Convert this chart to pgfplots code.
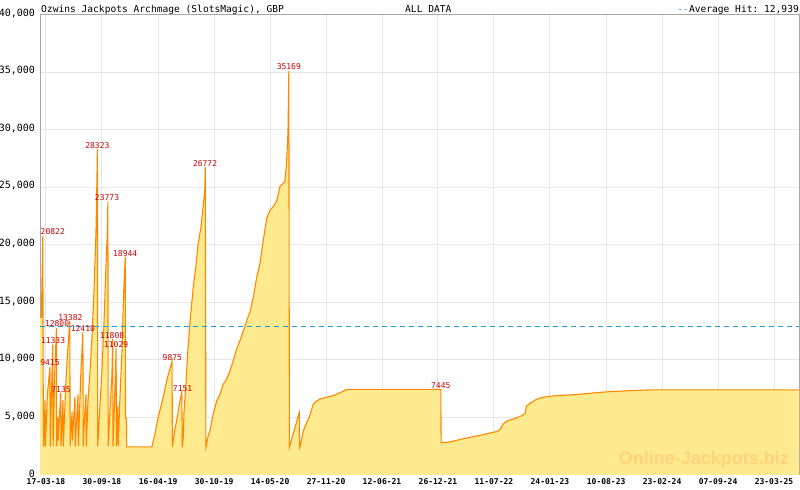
\documentclass[border=0pt]{standalone}
\usepackage{pgfplots}
\pgfplotsset{compat=1.18}
\usepackage{pgfplotstable}
\usepackage{fontspec}
\setmainfont{DejaVu Sans}
\setmonofont{DejaVu Sans Mono}
\newfontfamily\wmfont{Liberation Sans}
\definecolor{fillY}{HTML}{FFEA8F}
\definecolor{lineO}{HTML}{FF8800}
\definecolor{avgB}{HTML}{1E9CD8}
\definecolor{lblR}{HTML}{CC0000}
\definecolor{gridG}{HTML}{E6E6E6}
\definecolor{axG}{HTML}{A8A8A8}
\definecolor{wmC}{HTML}{FFD27C}

\pgfplotstableread{
x y
-21 13700
-16 13700
-14 16900
-11 20822
-10 8700
-8 2500
-3 6500
-2 2500
5 7000
14 9415
15 2500
21 8500
24 11333
25 2500
31 9000
37 12800
38 2500
42 5000
43 3000
52 7135
53 2500
60 6500
61 2500
70 8000
77 11000
84 13382
85 2500
92 5500
93 3000
102 6800
103 2500
113 7000
114 2500
123 9000
130 12410
131 2500
137 5500
141 7000
142 2500
148 6500
155 9000
162 12000
169 16000
176 21000
179 25000
181 28323
182 2500
190 6000
197 9000
204 13000
211 18000
216 21000
218 23773
219 2500
225 5500
232 8500
235 11808
236 2500
241 6000
247 11029
248 2500
253 6000
254 2500
261 7000
268 11000
273 15500
279 18944
280 4950
283 4950
284 2450
373 2450
384 3600
394 4900
405 6000
415 7000
426 8300
437 9300
444 9875
445 2450
448 3000
454 3990
460 4720
466 5600
472 6470
478 7151
480 2400
483 3200
486 5500
493 8000
500 11000
507 13300
518 16200
528 18200
535 20000
546 21600
553 23300
559 24700
561 26772
563 2400
565 2600
570 3300
577 3850
589 5300
601 6450
613 7030
624 7890
636 8330
648 9060
659 9930
671 10950
683 11680
695 12550
707 13420
718 14150
730 15460
742 17200
753 18370
765 20410
777 22310
789 23040
800 23330
812 23800
824 25100
841 25500
847 27150
852 29800
855 35169
857 2400
865 3120
877 4140
888 5140
892 5450
893 2400
897 2680
906 3840
918 4570
929 5150
941 6170
947 6310
965 6610
988 6760
1011 6900
1035 7150
1059 7445
1390 7445
1391 2800
1422 2880
1469 3150
1528 3450
1587 3780
1598 3950
1610 4450
1627 4750
1645 4850
1669 5100
1686 5300
1692 6000
1701 6180
1721 6500
1739 6700
1774 6850
1868 7000
1933 7150
1986 7250
2056 7330
2126 7400
2651 7400
}\jp

\pgfplotstableread{
x y label
24 20822 20822
14 9415 9415
25 11333 11333
39 12800 12800
53 7135 7135
86 13382 13382
130 12410 12410
181 28323 28323
215 23773 23773
233 11808 11808
247 11029 11029
279 18944 18944
445 9875 9875
481 7151 7151
560 26772 26772
855 35169 35169
1390 7445 7445
}\peaks

\begin{document}
\begin{tikzpicture}[x=1bp,y=1bp]
\useasboundingbox (0,0) rectangle (800,490);
\begin{axis}[name=ax, at={(40bp,15bp)}, anchor=south west, scale only axis,
  width=759bp, height=460bp,
  xmin=-21, xmax=2651, ymin=0, ymax=40000,
  axis line style={axG, line width=1bp},
  xtick={0,197,395,592,789,986,1183,1380,1577,1774,1972,2169,2366,2563},
  xticklabels={17-03-18,30-09-18,16-04-19,30-10-19,14-05-20,27-11-20,12-06-21,26-12-21,11-07-22,24-01-23,10-08-23,23-02-24,07-09-24,23-03-25},
  minor x tick num=6,
  ytick={0,5000,10000,15000,20000,25000,30000,35000,40000},
  yticklabels={0,{5,000},{10,000},{15,000},{20,000},{25,000},{30,000},{35,000},{40,000}},
  tick align=inside, xtick pos=bottom, ytick pos=left,
  major tick length=6bp, minor tick length=3bp,
  tick style={axG, line width=0.8bp},
  ytick style={draw=none},
  xmajorgrids, ymajorgrids, grid style={gridG, line width=1bp},
  yticklabel style={font=\ttfamily\fontsize{10bp}{10bp}\selectfont, xshift=-1.5bp, yshift=1.5bp},
  xticklabel style={font=\ttfamily\bfseries\fontsize{8bp}{8bp}\selectfont, yshift=0bp},
  clip=false,
]
\addplot[fill=fillY, draw=none] table[x=x,y=y]{\jp} \closedcycle;
\addplot[lineO, line width=1.1bp] table[x=x,y=y]{\jp};
\addplot[avgB, line width=1bp, dash pattern=on 5bp off 4bp] coordinates {(-21,12939) (2651,12939)};
\addplot[only marks, mark=none, nodes near coords, point meta=explicit symbolic,
  every node near coord/.style={font=\ttfamily\fontsize{8bp}{8bp}\selectfont, text=lblR, anchor=south, inner sep=0.6bp}]
  table[x=x,y=y,meta=label]{\peaks};
\end{axis}
\node[anchor=base west, inner sep=0, font=\ttfamily\fontsize{9.6bp}{9.6bp}\selectfont] at ([xshift=1bp,yshift=2bp]ax.north west) {Ozwins Jackpots Archmage (SlotsMagic), GBP};
\node[anchor=base west, inner sep=0, font=\ttfamily\fontsize{9.6bp}{9.6bp}\selectfont] at ([xshift=365bp,yshift=2bp]ax.north west) {ALL DATA};
\node[anchor=base east, inner sep=0, font=\ttfamily\fontsize{9.6bp}{9.6bp}\selectfont] at ([xshift=0bp,yshift=2bp]ax.north east) {{\color{avgB}-{}-}Average Hit: 12,939};
\node[anchor=base east, inner sep=0, text=wmC, font=\wmfont\bfseries\fontsize{18bp}{18bp}\selectfont] at (789,25) {Online-Jackpots.biz};
\end{tikzpicture}
\end{document}
